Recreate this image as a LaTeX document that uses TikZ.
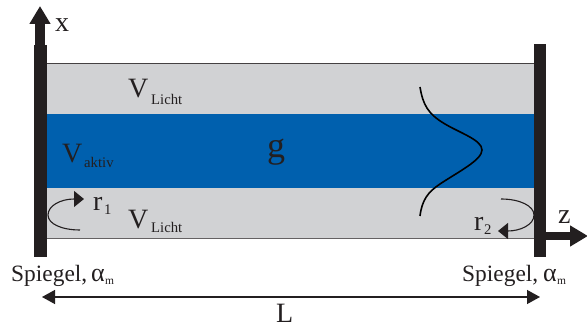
\documentclass[tikz,border=0pt]{standalone}
\usepackage{fontspec}
\setmainfont{Liberation Serif}
\usetikzlibrary{arrows.meta}
\definecolor{Blue}{HTML}{0060AE}
\definecolor{Grey}{HTML}{D1D2D4}
\definecolor{Dark}{HTML}{231F20}
\newcommand{\alphabig}{{\fontsize{26}{28}\selectfont α}}

\begin{document}
\begin{tikzpicture}[x=1pt,y=-1pt,
  lab/.style={inner sep=0pt,anchor=base west,text=Dark,font=\fontsize{28}{30}\selectfont},
  sub/.style={inner sep=0pt,anchor=base west,text=Dark,font=\fontsize{14.7}{16}\selectfont},
  txt/.style={inner sep=0pt,anchor=base west,text=Dark,font=\fontsize{23.4}{25}\selectfont},
  tiny/.style={inner sep=0pt,anchor=base west,text=Dark,font=\fontsize{11.5}{12}\selectfont},
  mirror/.style={fill=Dark},
  axis/.style={-{Triangle[length=18pt,width=20pt]},line width=10pt,Dark},
  rot/.style={-{Triangle[length=10pt,width=16pt]},line width=1.1pt,Dark},
  dist/.style={{Triangle[length=13pt,width=14pt]}-{Triangle[length=13pt,width=14pt]},line width=1.3pt,Dark}]
  \useasboundingbox (0,0) rectangle (587,328);
  % layers
  \fill[Grey] (46,64) rectangle (534,239);
  \fill[Blue] (46,114) rectangle (534,188);
  \draw[Dark!85,line width=1pt] (46,64)--(534,64);
  \draw[Dark!70,line width=1pt] (46,239)--(534,239);
  % mirrors and axes
  \coordinate (xfoot) at (40,50);
  \coordinate (xtip) at (40,6);
  \coordinate (zfoot) at (540,236);
  \coordinate (ztip) at (588,236);
  \coordinate (lleft) at (42,297);
  \coordinate (lright) at (540,297);
  \fill[mirror] (34,45) rectangle (46.5,257);
  \fill[mirror] (534,44) rectangle (546,257);
  \draw[axis] (xfoot)--(xtip);
  \draw[axis,line width=8pt] (zfoot)--(ztip);
  % mode profile
  \draw[black,line width=1.6pt] (420,87) .. controls (423,105) and (428,114) .. (445,124)
    .. controls (460,133) and (482,140) .. (482,150)
    .. controls (482,160) and (458,172) .. (440,184)
    .. controls (428,192) and (422,200) .. (420,216);
  % reflections
  \coordinate (r1a) at (80,230);
  \coordinate (r1b) at (84,199);
  \coordinate (r2a) at (501,199);
  \coordinate (r2b) at (498,231);
  \draw[rot] (r1a) .. controls (62,230) and (48,224) .. (48,215)
    .. controls (48,206) and (60,199) .. (r1b);
  \draw[rot] (r2a) .. controls (520,199) and (534,206) .. (534,215)
    .. controls (534,225) and (520,231) .. (r2b);
  \draw[dist] (lleft)--(lright);
  % labels
  \node[lab] (xlab) at (55,32) {x};
  \node[lab] (zlab) at (558,224) {z};
  \node[lab] (vtop) at (128,98) {V};
  \node[sub] (vtopsub) at (151,105) {Licht};
  \node[lab] (vmid) at (62,163) {V};
  \node[sub] (vmidsub) at (84,168) {aktiv};
  \node[lab] (vbot) at (128,229) {V};
  \node[sub] (vbotsub) at (151,233) {Licht};
  \node[lab,font=\fontsize{36}{38}\selectfont] (gain) at (267,158) {g};
  \node[lab] (rone) at (93,211) {r};
  \node[sub] (ronesub) at (104,215) {1};
  \node[lab] (rtwo) at (474,231) {r};
  \node[sub] (rtwosub) at (484,235) {2};
  \node[txt] (spl) at (11,282) {Spiegel,\hspace{4pt}\alphabig};
  \node[tiny] (splm) at (105,285) {m};
  \node[txt] (spr) at (462,282) {Spiegel,\hspace{5pt}\alphabig};
  \node[tiny] (sprm) at (557,285) {m};
  \node[lab] (llab) at (276,323) {L};
\end{tikzpicture}
\end{document}
